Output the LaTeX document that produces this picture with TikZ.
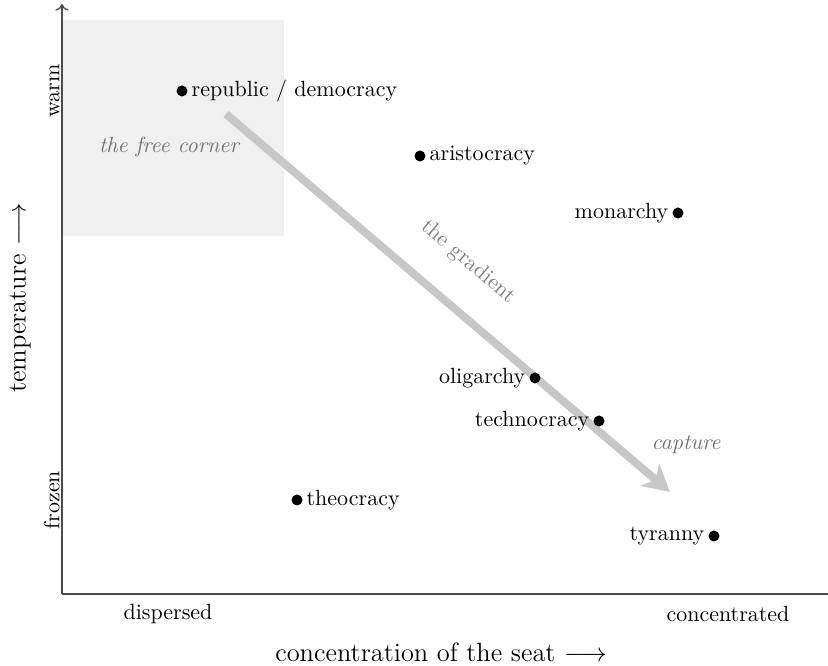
\documentclass[tikz,border=0pt]{standalone}
\usetikzlibrary{arrows.meta}
\begin{document}
\begin{tikzpicture}[x=0.4545pt,y=-0.4545pt,
  dot/.style={circle,fill=black,inner sep=0pt,minimum size=5pt},
  lbl/.style={inner sep=1.5pt,font=\normalsize},
  note/.style={text=black!55,font=\itshape},
  axis/.style={draw=black!70,line width=0.6pt}]
\useasboundingbox (0,0) rectangle (828,666);
% free corner
\fill[black!6] (62,20) rectangle (284,236);
\node[note] (free) at (169,147) {the free corner};
% axes
\coordinate (O) at (62,594);
\coordinate (ytop) at (62,4);
\coordinate (xend) at (828,594);
\draw[axis,-{To[length=3pt,width=6pt]}] (O) -- (ytop);
\draw[axis] (O) -- (xend);
% axis labels
\node[rotate=90,anchor=south,inner sep=0pt] (warm) at (60,91) {warm};
\node[rotate=90,anchor=south,inner sep=0pt] (frozen) at (60,500) {frozen};
\node[rotate=90,font=\large] (temp) at (20,298) {temperature $\longrightarrow$};
\node (disp) at (168,614) {dispersed};
\node (conc) at (728,614) {concentrated};
\node[font=\large] (seat) at (441,652) {concentration of the seat $\longrightarrow$};
% gradient
\coordinate (gs) at (226,114);
\coordinate (ge) at (670,492);
\draw[black!22,line width=3.6pt,-{Stealth[length=12pt,width=13pt,inset=3.5pt]}] (gs) -- (ge);
\node[rotate=-40.4,text=black!50] (grad) at (468,262) {the gradient};
\node[note] (capt) at (686,445) {capture};
% regimes
\node[dot] (rep) at (182,91) {};
\node[lbl,anchor=west] (repL) at (rep.east) {republic / democracy};
\node[dot] (ari) at (420,156) {};
\node[lbl,anchor=west] (ariL) at (ari.east) {aristocracy};
\node[dot] (mon) at (678,213) {};
\node[lbl,anchor=east] (monL) at (mon.west) {monarchy};
\node[dot] (oli) at (535,378) {};
\node[lbl,anchor=east] (oliL) at (oli.west) {oligarchy};
\node[dot] (tec) at (599,421) {};
\node[lbl,anchor=east] (tecL) at (tec.west) {technocracy};
\node[dot] (the) at (297,500) {};
\node[lbl,anchor=west] (theL) at (the.east) {theocracy};
\node[dot] (tyr) at (714,536) {};
\node[lbl,anchor=east] (tyrL) at (tyr.west) {tyranny};
\end{tikzpicture}
\end{document}
